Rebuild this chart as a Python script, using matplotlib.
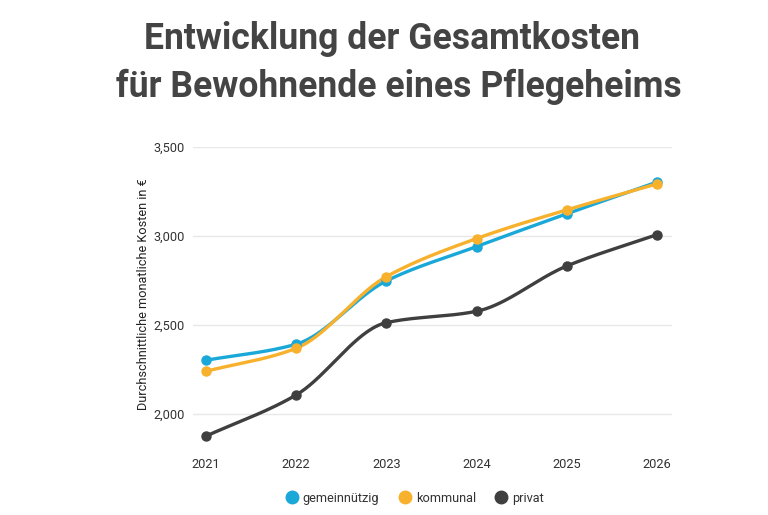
import matplotlib
matplotlib.use("Agg")
import matplotlib.pyplot as plt
from matplotlib.lines import Line2D
import numpy as np

plt.rcParams['font.family'] = ['Roboto', 'DejaVu Sans']

years = [2021, 2022, 2023, 2024, 2025, 2026]
gemeinnuetzig = [2302, 2392, 2747, 2940, 3124, 3302]
kommunal = [2240, 2369, 2771, 2985, 3146, 3292]
privat = [1876, 2107, 2513, 2577, 2831, 3007]
series_names = ["gemeinnützig", "kommunal", "privat"]
colors = ["#1aa8d8", "#f7b12c", "#3f3f3f"]


def monotone(x, y, n=40):
    # monotone cubic (Fritsch-Carlson) for a smooth line through the points
    x = np.asarray(x, float)
    y = np.asarray(y, float)
    h = np.diff(x)
    d = np.diff(y) / h
    m = np.zeros_like(y)
    m[0], m[-1] = d[0], d[-1]
    for i in range(1, len(y) - 1):
        if d[i - 1] * d[i] <= 0:
            m[i] = 0
        else:
            w1 = 2 * h[i] + h[i - 1]
            w2 = h[i] + 2 * h[i - 1]
            m[i] = (w1 + w2) / (w1 / d[i - 1] + w2 / d[i])
    xs, ys = [], []
    for i in range(len(x) - 1):
        t = np.linspace(0, 1, n)
        h00 = 2 * t**3 - 3 * t**2 + 1
        h10 = t**3 - 2 * t**2 + t
        h01 = -2 * t**3 + 3 * t**2
        h11 = t**3 - t**2
        xs.append(x[i] + t * h[i])
        ys.append(h00 * y[i] + h10 * h[i] * m[i] + h01 * y[i + 1] + h11 * h[i] * m[i + 1])
    return np.concatenate(xs), np.concatenate(ys)


fig = plt.figure(figsize=(7.68, 5.15), dpi=100)
ax = fig.add_axes([0.251, 0.144, 0.624, 0.571])

for vals, col in zip([gemeinnuetzig, kommunal, privat], colors):
    sx, sy = monotone(years, vals)
    ax.plot(sx, sy, color=col, lw=2.4, solid_capstyle="round", zorder=3)
    ax.plot(years, vals, "o", color=col, ms=6.5, zorder=4)

ax.set_xlim(2020.856, 2026.166)
ax.set_ylim(1850, 3500)
ax.set_xticks(years)
ax.set_yticks([2000, 2500, 3000, 3500])
ax.set_yticklabels(["2,000", "2,500", "3,000", "3,500"])
ax.grid(axis="y", color="#e8e8e8", lw=1)
ax.set_axisbelow(True)
for s in ax.spines.values():
    s.set_visible(False)
ax.tick_params(axis="both", length=0, labelsize=9.2, colors="#333333")
ax.tick_params(axis="x", pad=12)
ax.tick_params(axis="y", pad=6)
ax.set_ylabel("Durchschnittliche monatliche Kosten in €", fontsize=9.2, color="#222222", labelpad=2)

fig.text(0.51, 0.925, "Entwicklung der Gesamtkosten", ha="center", va="center",
         fontsize=25.6, fontweight="bold", color="#444444")
fig.text(0.513, 0.832, " für Bewohnende eines Pflegeheims", ha="center", va="center",
         fontsize=25.6, fontweight="bold", color="#444444")

handles = [Line2D([], [], ls="", marker="o", ms=9, color=c) for c in colors]
fig.legend(handles, series_names, loc="center", bbox_to_anchor=(0.54, 0.033), ncol=3,
           frameon=False, fontsize=9.2, handlelength=1.0, handletextpad=0.35,
           columnspacing=1.5, labelcolor="#333333")

fig.savefig("out.png", dpi=100)
